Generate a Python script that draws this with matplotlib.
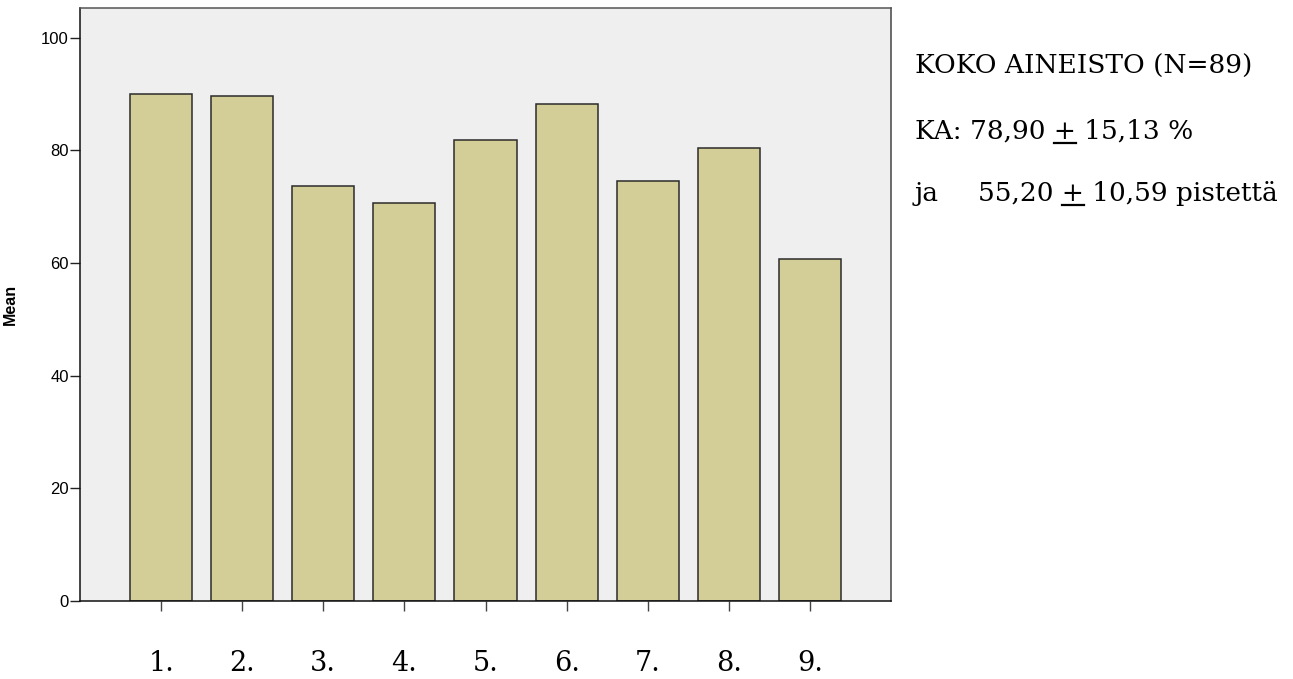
import matplotlib
matplotlib.use("Agg")
import matplotlib.pyplot as plt
from matplotlib.lines import Line2D

# data
categories = ["1.", "2.", "3.", "4.", "5.", "6.", "7.", "8.", "9."]
means = [90.1, 89.7, 73.7, 70.7, 81.8, 88.2, 74.6, 80.5, 60.8]

y_ticks = [0, 20, 40, 60, 80, 100]

info_title = "KOKO AINEISTO (N=89)"
info_pct = ("KA: 78,90 ", "+", " 15,13 %")
info_pts = ("ja", "55,20 ", "+", " 10,59 pistettä")

BAR_FACE = "#d3ce98"
BG = "#efefef"
EDGE = "#2b2b2b"
SERIF = ["DejaVu Serif"]
SANS = ["Liberation Sans", "DejaVu Sans"]

W, H = 1293, 679
fig = plt.figure(figsize=(W / 100, H / 100), dpi=100)
fig.patch.set_facecolor("white")

ax = fig.add_axes([80 / W, 1 - 601 / H, (891 - 80) / W, (601 - 8) / H])
ax.set_facecolor(BG)

xpos = list(range(1, len(means) + 1))
ax.bar(xpos, means, width=0.765, color=BAR_FACE, edgecolor=EDGE, linewidth=1.1, zorder=2)

ax.set_xlim(0, 10)
ax.set_ylim(0, 105.3)
ax.set_yticks(y_ticks)
ax.set_yticklabels([str(v) for v in y_ticks], fontfamily=SANS, fontsize=12)
ax.set_xticks(xpos)
ax.set_xticklabels(categories, fontfamily=SERIF, fontsize=19.5)
ax.tick_params(axis="y", direction="out", length=7, width=1.0, color="#222222", pad=1)
ax.tick_params(axis="x", direction="out", length=7, width=1.0, color="#444444", pad=28)

for side, col in [("left", "#111111"), ("bottom", "#111111"), ("top", "#555555"), ("right", "#444444")]:
    ax.spines[side].set_color(col)
    ax.spines[side].set_linewidth(1.1)

ax.set_ylabel("Mean", fontfamily=SANS, fontsize=11.5, fontweight="bold")
ax.yaxis.set_label_coords((18 - 80) / (891 - 80), 0.5)

# text block on the right
fs = 19
fig.text(915 / W, 1 - 66 / H, info_title, fontfamily=SERIF, fontsize=fs, va="center", ha="left")

fig.canvas.draw()
renderer = fig.canvas.get_renderer()


def underlined_line(x_px, y_px, before, plus, after):
    fig.text(x_px / W, 1 - y_px / H, before + plus + after,
             fontfamily=SERIF, fontsize=fs, va="baseline", ha="left")
    probe = fig.text(x_px / W, 1 - y_px / H, before + plus,
                     fontfamily=SERIF, fontsize=fs, va="baseline", ha="left")
    right = probe.get_window_extent(renderer).x1
    probe.remove()
    probe = fig.text(0, 0, plus, fontfamily=SERIF, fontsize=fs)
    pw = probe.get_window_extent(renderer).width
    probe.remove()
    yline = (H - y_px - 4) / H
    fig.add_artist(Line2D([(right - pw) / W, right / W], [yline, yline],
                          transform=fig.transFigure, color="black", linewidth=1.6))


underlined_line(915, 139, *info_pct)
fig.text(915 / W, 1 - 201 / H, info_pts[0], fontfamily=SERIF, fontsize=fs, va="baseline", ha="left")
underlined_line(978, 201, *info_pts[1:])

fig.savefig("out.png", dpi=100)
